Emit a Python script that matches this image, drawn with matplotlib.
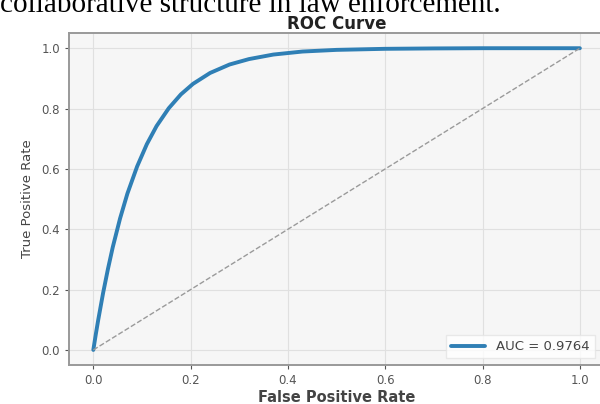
import matplotlib
matplotlib.use("Agg")
import matplotlib.pyplot as plt

# ROC points
fpr = [0.0, 0.005, 0.01, 0.02, 0.03, 0.04, 0.055, 0.07, 0.09, 0.11, 0.13, 0.155,
       0.18, 0.205, 0.24, 0.28, 0.32, 0.37, 0.43, 0.5, 0.6, 0.7, 0.8, 0.9, 1.0]
tpr = [0.0, 0.051, 0.099, 0.188, 0.268, 0.341, 0.436, 0.518, 0.608, 0.682, 0.742, 0.801,
       0.847, 0.882, 0.918, 0.946, 0.964, 0.979, 0.989, 0.9945, 0.998, 0.9993, 1.0, 1.0, 1.0]
auc_value = 0.9764
chance = [0.0, 1.0]
ticks = [0.0, 0.2, 0.4, 0.6, 0.8, 1.0]

fig = plt.figure(figsize=(6.0, 4.04), dpi=100)
ax = fig.add_axes([0.115, 0.0965, 0.892, 0.8215])
ax.set_facecolor("#f6f6f6")
ax.grid(True, color="#e0e0e0", lw=0.8)
ax.set_axisbelow(True)
for s in ax.spines.values():
    s.set_color("#999999"); s.set_linewidth(1.4)

ax.plot(fpr, tpr, color="#2f7fb5", lw=2.8, label=f"AUC = {auc_value:.4f}", solid_capstyle="round")
ax.plot(chance, chance, color="#9a9a9a", lw=1.0, ls="--")
ax.set_xlim(-0.05, 1.05); ax.set_ylim(-0.05, 1.05)
ax.set_xticks(ticks); ax.set_yticks(ticks)
ax.tick_params(labelsize=8.5, colors="#555555", length=3, width=0.8)
ax.set_xlabel("False Positive Rate", fontsize=10.5, fontweight="bold", color="#444444", labelpad=2)
ax.set_ylabel("True Positive Rate", fontsize=9.5, color="#444444", labelpad=5)
ax.set_title("ROC Curve", fontsize=12, fontweight="bold", color="#222222", pad=2)
leg = ax.legend(loc="lower right", fontsize=9.5, frameon=True, fancybox=False,
                handlelength=2.6, bbox_to_anchor=(0.995, 0.0))
leg.get_frame().set_facecolor("white"); leg.get_frame().set_edgecolor("#e4e4e4")
for t in leg.get_texts():
    t.set_color("#444444")

# clipped line of document text above the chart
fig.text(0.0, 1 - 12 / 404, "collaborative structure in law enforcement.",
         family="Liberation Serif", fontsize=21, va="baseline", ha="left", color="black")

fig.savefig("out.png", dpi=100)
